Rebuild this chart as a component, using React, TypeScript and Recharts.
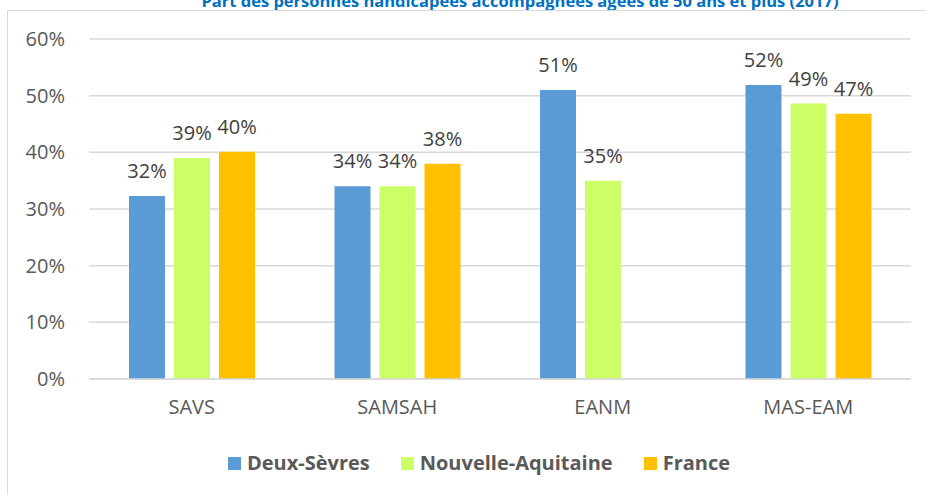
import { Bar, BarChart, CartesianGrid, LabelList, XAxis, YAxis } from 'recharts';

const categories = ['SAVS', 'SAMSAH', 'EANM', 'MAS-EAM'];
const deuxSevres = [0.323, 0.34, 0.51, 0.519];
const nouvelleAquitaine = [0.39, 0.34, 0.35, 0.486];
const france: (number | null)[] = [0.401, 0.38, null, 0.468];
const yTicks = [0, 0.1, 0.2, 0.3, 0.4, 0.5, 0.6];

const series = [
  { key: 'deuxSevres', name: 'Deux-Sèvres', color: '#5B9BD5' },
  { key: 'nouvelleAquitaine', name: 'Nouvelle-Aquitaine', color: '#CCFF66' },
  { key: 'france', name: 'France', color: '#FFC000' },
];

const chartData = categories.map((name, i) => ({
  name,
  deuxSevres: deuxSevres[i],
  nouvelleAquitaine: nouvelleAquitaine[i],
  france: france[i],
}));

const FONT = '"Open Sans", sans-serif';
const pct = (v: unknown) => (v == null || v === '' ? '' : `${Math.round(Number(v) * 100)}%`);

export default function App() {
  return (
    <div
      style={{
        position: 'absolute',
        left: 0,
        top: 0,
        width: 926,
        height: 495,
        overflow: 'hidden',
        background: '#fff',
        fontFamily: FONT,
      }}
    >
      {/* title, cut off at the top like in the source */}
      <div
        style={{
          position: 'absolute',
          top: -8,
          left: 0,
          width: 1040,
          textAlign: 'center',
          whiteSpace: 'nowrap',
          fontSize: 16.5,
          lineHeight: '18px',
          fontWeight: 700,
          color: '#0070C0',
        }}
      >
        Part des personnes handicapées accompagnées âgées de 50 ans et plus (2017)
      </div>
      <div
        style={{
          position: 'absolute',
          left: 7,
          top: 10,
          width: 1000,
          height: 600,
          border: '1px solid #d9d9d9',
        }}
      />
      <div style={{ position: 'absolute', left: 0, top: 0 }}>
        <BarChart
          width={926}
          height={495}
          data={chartData}
          margin={{ top: 39, right: 15, left: 0, bottom: 86 }}
          barSize={36}
          barGap={9}
        >
          <CartesianGrid vertical={false} stroke="#d9d9d9" strokeWidth={1.5} />
          <XAxis
            dataKey="name"
            axisLine={{ stroke: '#d9d9d9', strokeWidth: 1.5 }}
            tickLine={false}
            tickMargin={15}
            tick={{ fill: '#595959', fontSize: 20, fontFamily: FONT }}
          />
          <YAxis
            width={89}
            domain={[0, 0.6]}
            ticks={yTicks}
            tickFormatter={pct}
            axisLine={false}
            tickLine={false}
            tickMargin={18}
            tick={{ fill: '#595959', fontSize: 20, fontFamily: FONT }}
          />
          {series.map((s) => (
            <Bar key={s.key} dataKey={s.key} name={s.name} fill={s.color} isAnimationActive={false}>
              <LabelList
                dataKey={s.key}
                position="top"
                offset={18}
                formatter={pct}
                style={{ fill: '#404040', fontSize: 20, fontFamily: FONT }}
              />
            </Bar>
          ))}
        </BarChart>
      </div>
      <div
        style={{
          position: 'absolute',
          top: 450,
          left: 0,
          width: 958,
          display: 'flex',
          justifyContent: 'center',
          gap: 31,
          fontSize: 20,
          fontWeight: 700,
          color: '#595959',
          lineHeight: '26px',
        }}
      >
        {series.map((s) => (
          <div key={s.key} style={{ display: 'flex', alignItems: 'center', gap: 6 }}>
            <span style={{ width: 13, height: 13, background: s.color, display: 'inline-block' }} />
            <span>{s.name}</span>
          </div>
        ))}
      </div>
    </div>
  );
}
